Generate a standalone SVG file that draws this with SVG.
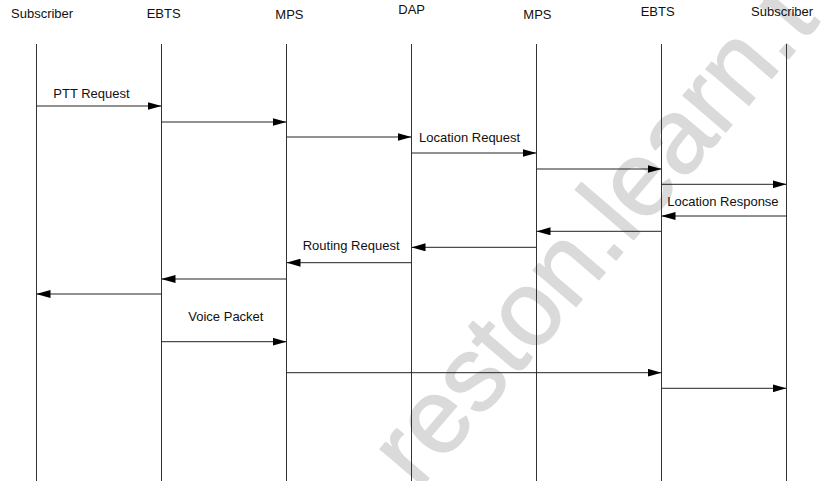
<svg xmlns="http://www.w3.org/2000/svg" width="823" height="481" viewBox="0 0 823 481">
  <defs>
    <marker id="arrow" markerUnits="userSpaceOnUse" markerWidth="14" markerHeight="8" refX="14" refY="4" orient="auto">
      <path d="M0,0 L14,4 L0,8 z" fill="#000"/>
    </marker>
  </defs>
  <style>
    .hdr { font-family: "Liberation Sans", Arial, sans-serif; font-size: 13px; fill: #111; }
    .lbl { font-family: "Liberation Sans", Arial, sans-serif; font-size: 13px; fill: #111; }
    .life { stroke: #333; stroke-width: 1; fill: none; }
    .msg { stroke: #222; stroke-width: 1; fill: none; marker-end: url(#arrow); }
    .wm { font-family: "Liberation Sans", Arial, sans-serif; font-size: 106px; fill: #dadada; stroke: #dadada; stroke-width: 1.5; stroke-linejoin: round; }
  </style>

  <rect width="823" height="481" fill="#fff"/>

  <!-- background mark, runs diagonally behind the chart -->
  <text class="wm" transform="translate(418,491) rotate(-49.4)">reston.learn.t</text>

  <!-- participants -->
  <g id="subscriber-a">
    <text class="hdr" x="11" y="18">Subscriber</text>
    <line class="life" x1="36.5" y1="44" x2="36.5" y2="481"/>
  </g>
  <g id="ebts-a">
    <text class="hdr" x="146.7" y="18">EBTS</text>
    <line class="life" x1="161.5" y1="44" x2="161.5" y2="481"/>
  </g>
  <g id="mps-a">
    <text class="hdr" x="275.3" y="18.5">MPS</text>
    <line class="life" x1="286.5" y1="44" x2="286.5" y2="481"/>
  </g>
  <g id="dap">
    <text class="hdr" x="398.3" y="14">DAP</text>
    <line class="life" x1="411.5" y1="44" x2="411.5" y2="481"/>
  </g>
  <g id="mps-b">
    <text class="hdr" x="523.3" y="18.5">MPS</text>
    <line class="life" x1="536.5" y1="44" x2="536.5" y2="481"/>
  </g>
  <g id="ebts-b">
    <text class="hdr" x="640.7" y="15.5">EBTS</text>
    <line class="life" x1="661.5" y1="44" x2="661.5" y2="481"/>
  </g>
  <g id="subscriber-b">
    <text class="hdr" x="751" y="15.5">Subscriber</text>
    <line class="life" x1="786.5" y1="44" x2="786.5" y2="481"/>
  </g>

  <!-- messages -->
  <g id="connectors">
    <line class="msg" x1="36.5" y1="106" x2="161.5" y2="106"/>
    <line class="msg" x1="161.5" y1="122" x2="286.5" y2="122"/>
    <line class="msg" x1="286.5" y1="137" x2="411.5" y2="137"/>
    <line class="msg" x1="411.5" y1="153" x2="536.5" y2="153"/>
    <line class="msg" x1="536.5" y1="169" x2="661.5" y2="169"/>
    <line class="msg" x1="661.5" y1="184.3" x2="786.5" y2="184.3"/>
    <line class="msg" x1="786.5" y1="216" x2="661.5" y2="216"/>
    <line class="msg" x1="661.5" y1="231.3" x2="536.5" y2="231.3"/>
    <line class="msg" x1="536.5" y1="247.3" x2="411.5" y2="247.3"/>
    <line class="msg" x1="411.5" y1="262.7" x2="286.5" y2="262.7"/>
    <line class="msg" x1="286.5" y1="279" x2="161.5" y2="279"/>
    <line class="msg" x1="161.5" y1="294" x2="36.5" y2="294"/>
    <line class="msg" x1="161.5" y1="341.7" x2="286.5" y2="341.7"/>
    <line class="msg" x1="286.5" y1="372.7" x2="661.5" y2="372.7"/>
    <line class="msg" x1="661.5" y1="388.3" x2="786.5" y2="388.3"/>

    <text class="lbl" x="53.3" y="98.3">PTT Request</text>
    <text class="lbl" x="419" y="141.7">Location Request</text>
    <text class="lbl" x="667.3" y="206">Location Response</text>
    <text class="lbl" x="302.7" y="250">Routing Request</text>
    <text class="lbl" x="188.3" y="321">Voice Packet</text>
  </g>
</svg>
